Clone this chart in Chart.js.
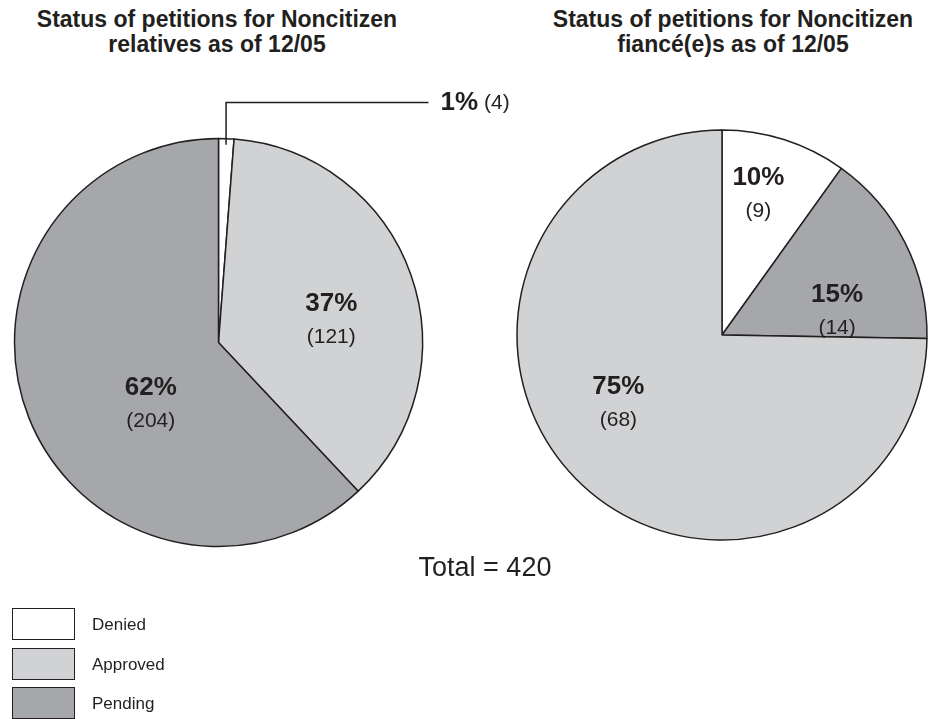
<!DOCTYPE html>
<html>
<head>
<meta charset="utf-8">
<script src="https://cdn.jsdelivr.net/npm/chart.js@4.4.1/dist/chart.umd.min.js"></script>
<style>
  body { margin: 0; background: #fff; font-family: 'Liberation Sans', Arial, Helvetica, sans-serif; color: #231f20; }
  #page { position: relative; width: 935px; height: 719px; overflow: hidden; }
  canvas { position: absolute; }
  .title { position: absolute; font-weight: bold; font-size: 23px; line-height: 25px; text-align: center; width: 470px; }
  #total { position: absolute; font-size: 27px; left: 380px; top: 552px; width: 210px; text-align: center; }
  .legItem { position: absolute; left: 12px; height: 32px; }
  .legItem .box { position: absolute; left: 0; top: 0; width: 63px; height: 32px; border: 1.5px solid #231f20; box-sizing: border-box; }
  .legItem span { position: absolute; left: 80px; top: 7px; font-size: 17px; white-space: nowrap; }
</style>
</head>
<body>
<div id="page">
  <div class="title" style="left:-18px;top:7px">Status of petitions for Noncitizen<br>relatives as of 12/05</div>
  <div class="title" style="left:498px;top:7px">Status of petitions for Noncitizen<br>fiancé(e)s as of 12/05</div>
  <canvas id="relChart" width="600" height="685" style="left:0;top:0"></canvas>
  <canvas id="fianChart" width="426" height="430" style="left:509px;top:120px"></canvas>
  <div id="total"></div>
  <div id="legend"></div>
</div>
<script>
// 데이터
const statuses = ['Denied', 'Approved', 'Pending'];
const statusColors = ['#ffffff', '#d1d2d4', '#a6a7aa'];

const relOrder = ['Denied', 'Approved', 'Pending'];
const relCounts = [4, 121, 204];
const relPct = [1, 37, 62];

const fianOrder = ['Denied', 'Pending', 'Approved'];
const fianCounts = [9, 14, 68];
const fianPct = [10, 15, 75];

const totalLabel = 'Total = 420';

const INK = '#231f20';
const FONT = "'Liberation Sans', Arial, Helvetica, sans-serif";

// 라벨 위치: 조각 각도 비율(t), 반지름 비율(f)
const relLabelPos = [null, { t: 0.54, f: 0.57 }, { t: 0.42, f: 0.43 }];
const fianLabelPos = [{ t: 0.39, f: 0.74 }, { t: 0.72, f: 0.58 }, { t: 0.55, f: 0.59 }];

function colorOf(name) { return statusColors[statuses.indexOf(name)]; }

// 조각 라벨 플러그인
const sliceLabels = {
  id: 'sliceLabels',
  afterDraw(chart, args, opts) {
    const ctx = chart.ctx;
    const meta = chart.getDatasetMeta(0);
    const pct = opts.pct, counts = chart.data.datasets[0].data;
    ctx.save();
    ctx.fillStyle = INK;
    ctx.textAlign = 'center';
    ctx.textBaseline = 'alphabetic';
    meta.data.forEach((arc, i) => {
      const p = arc.getProps(['x', 'y', 'startAngle', 'endAngle', 'outerRadius'], true);
      const pos = opts.pos[i];
      if (!pos) {
        // 리더 라인 (작은 조각)
        const a = (p.startAngle + p.endAngle) / 2;
        const r = p.outerRadius * 0.97;
        const x0 = p.x + Math.cos(a) * r, y0 = p.y + Math.sin(a) * r;
        const yTop = p.y - p.outerRadius - 36;
        const xEnd = p.x + p.outerRadius + 6;
        ctx.strokeStyle = INK;
        ctx.lineWidth = 1.5;
        ctx.beginPath();
        ctx.moveTo(x0, y0);
        ctx.lineTo(x0, yTop);
        ctx.lineTo(xEnd, yTop);
        ctx.stroke();
        ctx.textAlign = 'left';
        ctx.textBaseline = 'middle';
        ctx.font = `bold 26px ${FONT}`;
        const s1 = pct[i] + '%';
        ctx.fillText(s1, xEnd + 12, yTop);
        const w = ctx.measureText(s1).width;
        ctx.font = `21px ${FONT}`;
        ctx.fillText('(' + counts[i] + ')', xEnd + 12 + w + 6, yTop + 1);
        ctx.textAlign = 'center';
        ctx.textBaseline = 'alphabetic';
        return;
      }
      const a = p.startAngle + (p.endAngle - p.startAngle) * pos.t;
      const r = p.outerRadius * pos.f;
      const cx = p.x + Math.cos(a) * r, cy = p.y + Math.sin(a) * r;
      ctx.font = `bold 26px ${FONT}`;
      ctx.fillText(pct[i] + '%', cx, cy - 3);
      ctx.font = `21px ${FONT}`;
      ctx.fillText('(' + counts[i] + ')', cx, cy + 29);
    });
    ctx.restore();
  }
};

function makePie(id, order, counts, pct, pos, radius, padding) {
  return new Chart(document.getElementById(id), {
    type: 'pie',
    data: {
      labels: order,
      datasets: [{
        data: counts,
        backgroundColor: order.map(colorOf),
        borderColor: INK,
        borderWidth: 1.5
      }]
    },
    options: {
      responsive: false,
      animation: false,
      radius: radius,
      layout: { padding: padding },
      plugins: {
        legend: { display: false },
        tooltip: { enabled: false },
        sliceLabels: { pct: pct, pos: pos }
      }
    },
    plugins: [sliceLabels]
  });
}

makePie('relChart', relOrder, relCounts, relPct, relLabelPos, 204, { left: 0, top: 0, bottom: 0, right: 163 });
makePie('fianChart', fianOrder, fianCounts, fianPct, fianLabelPos, 205, 0);

document.getElementById('total').textContent = totalLabel;

// 범례
const legend = document.getElementById('legend');
statuses.forEach((s, i) => {
  const item = document.createElement('div');
  item.className = 'legItem';
  item.style.top = (608 + i * 39.5) + 'px';
  item.innerHTML = `<div class="box" style="background:${statusColors[i]}"></div><span>${s}</span>`;
  legend.appendChild(item);
});
</script>
</body>
</html>
